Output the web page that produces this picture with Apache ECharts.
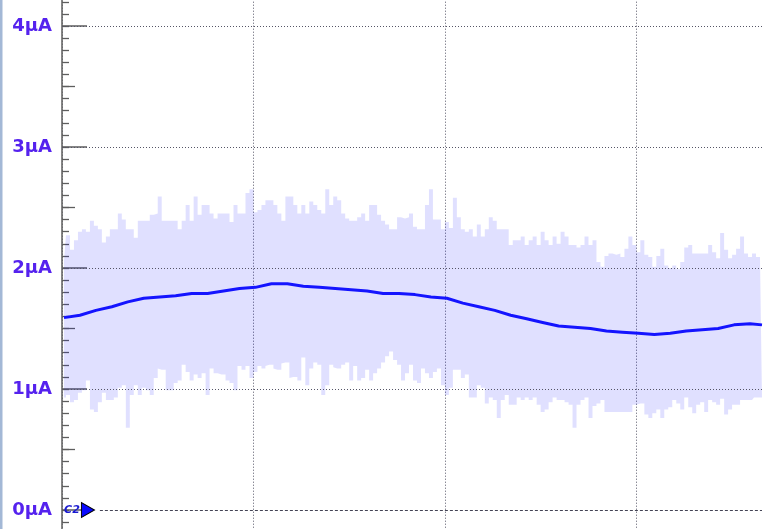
<!DOCTYPE html>
<html>
<head>
<meta charset="utf-8">
<script src="https://cdn.jsdelivr.net/npm/echarts@6/dist/echarts.min.js"></script>
<style>
html,body{margin:0;padding:0;background:#fff;}
#chart{width:764px;height:529px;}
</style>
</head>
<body>
<div id="chart"></div>
<script>
// Samples: one per time step; 48 samples per horizontal division
const samplesPerDiv = 48;
const yTickLabels = [0, 1, 2, 3, 4];
const yHalfTicks = [0.5, 1.5, 2.5, 3.5];
const unit = 'µA';

// Upper envelope (µA)
const upper = [
2.06,2.27,2.15,2.23,2.30,2.32,2.30,2.39,2.35,2.32,2.21,2.26,2.32,2.32,2.45,2.40,
2.32,2.32,2.25,2.39,2.39,2.39,2.44,2.45,2.59,2.39,2.39,2.39,2.39,2.32,2.39,2.52,
2.39,2.59,2.44,2.52,2.52,2.45,2.41,2.45,2.45,2.45,2.38,2.52,2.45,2.45,2.62,2.65,
2.46,2.48,2.52,2.56,2.56,2.52,2.45,2.39,2.59,2.59,2.52,2.45,2.52,2.45,2.55,2.52,
2.48,2.45,2.65,2.52,2.59,2.56,2.45,2.41,2.39,2.39,2.42,2.45,2.39,2.52,2.52,2.44,
2.39,2.36,2.32,2.32,2.42,2.41,2.42,2.45,2.34,2.32,2.32,2.52,2.65,2.40,2.40,2.32,
2.38,2.33,2.58,2.42,2.32,2.30,2.32,2.26,2.36,2.26,2.32,2.42,2.39,2.32,2.32,2.32,
2.19,2.23,2.23,2.26,2.19,2.23,2.26,2.19,2.30,2.23,2.19,2.26,2.20,2.30,2.26,2.19,
2.19,2.17,2.19,2.26,2.19,2.23,2.05,2.01,2.10,2.12,2.11,2.12,2.09,2.16,2.26,2.19,
2.13,2.23,2.11,2.09,2.01,2.10,2.16,2.02,2.00,2.02,1.99,2.05,2.17,2.19,2.12,2.12,
2.12,2.12,2.19,2.13,2.08,2.29,2.15,2.08,2.11,2.16,2.26,2.12,2.09,2.12,2.09,2.07
];

// Lower envelope (µA)
const lower = [
0.93,0.95,0.89,0.91,0.97,0.99,1.07,0.83,0.81,0.89,0.97,0.91,0.91,0.93,1.01,1.03,
0.68,0.95,1.03,0.95,1.01,0.99,0.95,1.09,1.17,1.16,0.99,0.99,1.05,1.07,1.20,1.14,
1.07,1.12,1.09,1.13,0.95,1.17,1.13,1.13,1.12,1.07,1.05,0.99,1.19,1.16,1.19,1.09,
1.14,1.19,1.17,1.19,1.20,1.17,1.16,1.21,1.22,1.09,1.10,1.07,1.26,1.03,1.17,1.22,
1.20,0.95,1.03,1.20,1.18,1.17,1.20,1.22,1.07,1.19,1.07,1.09,1.16,1.07,1.13,1.17,
1.22,1.27,1.31,1.24,1.20,1.07,1.13,1.20,1.07,1.05,1.17,1.13,1.09,1.14,1.17,1.03,
0.95,1.01,1.16,1.16,1.09,1.12,0.93,0.93,1.03,1.01,0.88,0.93,0.91,0.76,0.91,0.95,
0.87,0.87,0.93,0.91,0.93,0.91,0.93,0.87,0.81,0.83,0.89,0.93,0.91,0.91,0.89,0.87,
0.68,0.87,0.91,0.93,0.76,0.86,0.88,0.91,0.81,0.81,0.81,0.81,0.81,0.81,0.81,0.87,
0.87,0.88,0.79,0.76,0.80,0.83,0.76,0.83,0.85,0.91,0.88,0.83,0.93,0.85,0.80,0.87,
0.89,0.81,0.91,0.89,0.87,0.92,0.79,0.83,0.87,0.87,0.91,0.91,0.91,0.93,0.93,0.93
];

// Average trace (µA), one value every 4 samples (last value at the final sample)
const meanStep = 4;
const mean = [
1.59,1.61,1.65,1.68,1.72,1.75,1.76,1.77,1.79,1.79,1.81,1.83,1.84,1.87,1.87,1.85,
1.84,1.83,1.82,1.81,1.79,1.79,1.78,1.76,1.75,1.71,1.68,1.65,1.61,1.58,1.55,1.52,
1.51,1.50,1.48,1.47,1.46,1.45,1.46,1.48,1.49,1.50,1.53,1.54,1.53
];

const chart = echarts.init(document.getElementById('chart'), null, {renderer: 'canvas'});

const n = upper.length;
const categories = upper.map((_, i) => String(i));
const bandData = upper.map((v, i) => +(v - lower[i]).toFixed(3));
const meanData = mean.map((v, k) => [Math.min(k * meanStep, n - 1), v]);

const yMin = -0.2, yMax = 4.3;
const pxPerUnit = 121;
const gridTop = 510 - yMax * pxPerUnit;
const gridHeight = (yMax - yMin) * pxPerUnit;

const axisGray = '#5e5e5e';
const gridGray = '#555566';
const labelColor = '#5522ee';

function isInt(v) { return Math.abs(v - Math.round(v)) < 1e-6; }

const baseY = {
  type: 'value', min: yMin, max: yMax, position: 'left',
  axisLine: {show: false}, splitLine: {show: false},
  axisLabel: {show: false}, axisTick: {show: false}
};

const option = {
  animation: false,
  backgroundColor: '#ffffff',
  grid: {left: 62, width: 702, top: gridTop, height: gridHeight,
    containLabel: false, outerBoundsMode: 'none'},
  xAxis: {
    type: 'category', data: categories, boundaryGap: true,
    axisLine: {show: false}, axisTick: {show: false}, axisLabel: {show: false},
    splitLine: {show: true, interval: (i) => i % samplesPerDiv === 0,
      lineStyle: {color: gridGray, width: 1, type: [1, 2]}}
  },
  yAxis: [
    Object.assign({}, baseY, {
      interval: 0.1,
      axisLine: {show: true, onZero: false, lineStyle: {color: axisGray, width: 1.5}},
      axisTick: {show: true, inside: true, length: 7, lineStyle: {color: axisGray, width: 1.3}},
      axisLabel: {
        show: true, margin: 10, hideOverlap: false,
        color: labelColor, fontSize: 18, fontWeight: 'bold', fontFamily: 'DejaVu Sans',
        formatter: v => (isInt(v) && v >= 0 && v <= 4) ? Math.round(v) + unit : ''
      }
    }),
    Object.assign({}, baseY, {
      axisTick: {show: true, inside: true, length: 13, customValues: yHalfTicks,
        lineStyle: {color: axisGray, width: 1.3}}
    }),
    Object.assign({}, baseY, {
      axisTick: {show: true, inside: true, length: 25, customValues: yTickLabels,
        lineStyle: {color: axisGray, width: 1.5}}
    })
  ],
  series: [
    {
      name: 'lower', type: 'line', stack: 'env', step: 'middle',
      data: lower, showSymbol: false, silent: true,
      lineStyle: {width: 0, opacity: 0}, z: 2
    },
    {
      name: 'band', type: 'line', stack: 'env', step: 'middle',
      data: bandData, showSymbol: false, silent: true,
      lineStyle: {width: 0, opacity: 0},
      areaStyle: {color: 'rgba(0,0,255,0.122)', opacity: 1}, z: 2
    },
    {
      name: 'mean', type: 'line', data: meanData, showSymbol: false, silent: true,
      lineStyle: {color: '#1414ff', width: 3}, z: 4,
      markLine: {
        silent: true, symbol: 'none', label: {show: false},
        lineStyle: {color: gridGray, width: 1, type: [1, 2]},
        data: [
          {yAxis: 1}, {yAxis: 2}, {yAxis: 3}, {yAxis: 4},
          [{coord: [9, 0], lineStyle: {type: [3, 2], color: '#444455'}}, {coord: [n - 1, 0]}]
        ]
      },
      markPoint: {
        silent: true,
        data: [
          {coord: [6, 0], symbol: 'triangle', symbolRotate: -90, symbolSize: [15, 13],
            itemStyle: {color: '#0a0aff', borderColor: '#000000', borderWidth: 1},
            label: {show: false}},
          {coord: [2, 0], symbol: 'rect', symbolSize: 1, itemStyle: {opacity: 0},
            label: {show: true, position: 'inside', formatter: 'C2', color: '#1a1ad0',
              fontSize: 11, fontStyle: 'italic', fontWeight: 'bold', fontFamily: 'DejaVu Sans', opacity: 1}}
        ]
      }
    }
  ],
  graphic: [
    {type: 'rect', left: 0, top: 0, shape: {width: 2.5, height: 529}, style: {fill: '#a3b8d6'}, z: 10}
  ]
};

chart.setOption(option);
</script>
</body>
</html>
